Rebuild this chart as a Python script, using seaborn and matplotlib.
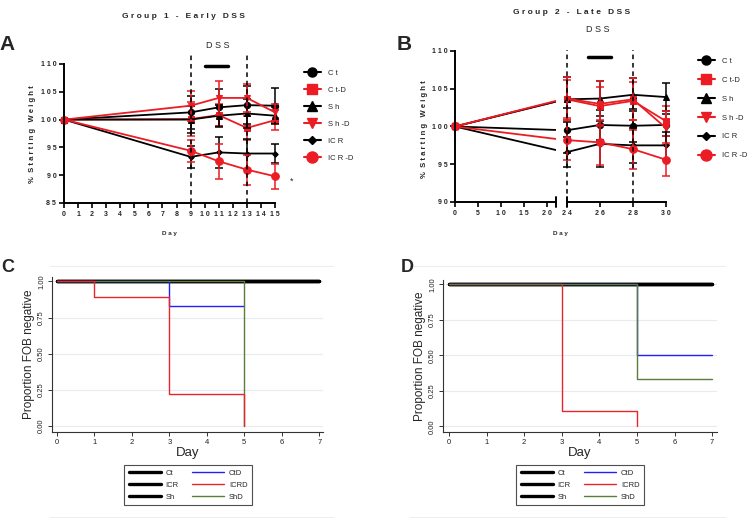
import matplotlib
matplotlib.use("Agg")
import matplotlib.pyplot as plt
from matplotlib.lines import Line2D
import seaborn as sns

# ---- data ----
groups = ["Ct", "Ct-D", "Sh", "Sh-D", "ICR", "ICR-D"]
group_labels = ["C t", "C t-D", "S h", "S h -D", "IC R", "IC R -D"]

# panel A: group 1, early DSS (% starting weight, mean and SEM)
days_a = [0, 9, 11, 13, 15]
weight_a = [
    [100, 101.3, 102.2, 102.6, 102.5],   # Ct
    [100, 100.1, 100.8, 98.5, 99.9],     # Ct-D
    [100, 100.0, 100.7, 101.1, 100.7],   # Sh
    [100, 102.5, 103.9, 103.9, 101.3],   # Sh-D
    [100, 93.3, 94.1, 93.9, 93.9],       # ICR
    [100, 94.4, 92.5, 91.0, 89.8],       # ICR-D
]
sem_a = [
    [0, 3.0, 3.3, 3.4, 3.1],
    [0, 3.0, 2.0, 2.1, 1.8],
    [0, 2.5, 2.0, 2.6, 1.5],
    [0, 2.7, 3.0, 2.5, 1.5],
    [0, 2.0, 2.8, 2.7, 1.7],
    [0, 2.0, 3.2, 2.7, 2.2],
]
yticks_a = [85, 90, 95, 100, 105, 110]
xticks_a = list(range(0, 16))

# panel B: group 2, late DSS
days_b = [0, 24, 26, 28, 30]
weight_b = [
    [100, 99.5, 100.2, 100.1, 100.2],    # Ct
    [100, 103.6, 102.7, 103.4, 100.7],   # Ct-D
    [100, 103.6, 103.7, 104.2, 103.9],   # Sh
    [100, 103.7, 103.0, 103.6, 99.8],    # Sh-D
    [100, 96.6, 97.7, 97.5, 97.5],       # ICR
    [100, 98.2, 97.9, 97.0, 95.6],       # ICR-D
]
sem_b = [
    [0, 3.0, 2.0, 2.2, 1.5],
    [0, 2.5, 2.5, 2.5, 2.0],
    [0, 3.0, 2.3, 2.2, 1.8],
    [0, 2.8, 3.0, 2.8, 2.2],
    [0, 2.0, 3.0, 2.3, 1.8],
    [0, 2.7, 3.0, 2.6, 2.2],
]
yticks_b = [90, 95, 100, 105, 110]
xticks_b_left = [0, 5, 10, 15, 20]
xticks_b_right = [24, 26, 28, 30]

# panels C/D: proportion FOB negative (step curves)
km_labels = ["Ct", "ICR", "Sh", "CtD", "ICRD", "ShD"]
c_ctrl_days, c_ctrl = [0, 7], [1.0, 1.0]
c_ctd_days, c_ctd = [0, 3, 5], [1.0, 0.83, 0.83]
c_icrd_days, c_icrd = [0, 1, 3, 5], [1.0, 0.89, 0.22, 0.0]
c_shd_days, c_shd = [0, 5], [1.0, 0.0]
d_ctrl_days, d_ctrl = [0, 7], [1.0, 1.0]
d_ctd_days, d_ctd = [0, 5, 7], [1.0, 0.5, 0.5]
d_icrd_days, d_icrd = [0, 3, 5], [1.0, 0.11, 0.0]
d_shd_days, d_shd = [0, 5, 7], [1.0, 0.33, 0.33]
km_yticks = [0, 0.25, 0.5, 0.75, 1.0]
km_xticks = list(range(0, 8))

# ---- styles ----
sns.set_style("ticks")
plt.rcParams["font.family"] = ["Liberation Sans", "DejaVu Sans"]

RED = "#ec1c24"
colors = ["black", RED, "black", RED, "black", RED]
markers = ["o", "s", "^", "v", "D", "o"]
msizes = [4.5, 4.5, 4.5, 5.0, 2.8, 5.5]


def spaced(s):
    return " ".join(str(s))


def prism_axes(ax):
    for s in ["top", "right"]:
        ax.spines[s].set_visible(False)
    for s in ["left", "bottom"]:
        ax.spines[s].set_linewidth(1.4)
        ax.spines[s].set_color("black")
    ax.tick_params(direction="out", length=3.5, width=1.2, color="black",
                   labelsize=5, pad=2)
    for lab in ax.get_xticklabels() + ax.get_yticklabels():
        lab.set_fontweight("bold")


fig = plt.figure(figsize=(7.5, 5.18), dpi=100)
W, H = 750.0, 518.0


def fx(px):
    return px / W


def fy(py):
    return 1 - py / H


# ================= panel A =================
axA = fig.add_axes([fx(64), fy(203), fx(211), 139 / H])
for i, g in enumerate(groups):
    sns.lineplot(x=days_a, y=weight_a[i], ax=axA, color=colors[i], marker=markers[i],
                 markersize=msizes[i], markeredgecolor=colors[i], lw=1.3,
                 estimator=None, sort=False, clip_on=False, legend=False)
    axA.errorbar(days_a[1:], weight_a[i][1:], yerr=sem_a[i][1:], fmt="none",
                 ecolor=colors[i], elinewidth=1.1, capsize=2.8, capthick=1.1,
                 clip_on=False)
axA.set_xlim(0, 15)
axA.set_ylim(85, 110)
axA.set_xticks(xticks_a, labels=[spaced(t) for t in xticks_a])
axA.set_yticks(yticks_a, labels=[spaced(t) for t in yticks_a])
prism_axes(axA)
for d in (9, 13):
    axA.plot([d, d], [85, 111.6], ls=(0, (3, 2.5)), color="black", lw=1.1, clip_on=False)
axA.plot([10, 11.65], [109.7, 109.7], color="black", lw=2.5, clip_on=False)
axA.text(10.9, 113.4, "D S S", ha="center", va="center", fontsize=6.5)
axA.text(16.2, 89.0, "*", ha="center", va="center", fontsize=6.5)

# ================= panel B (broken x axis) =================
axB1 = fig.add_axes([fx(455), fy(202), fx(101), 151 / H])
axB2 = fig.add_axes([fx(566.7), fy(202), fx(99.3), 151 / H])
for i, g in enumerate(groups):
    sns.lineplot(x=days_b, y=weight_b[i], ax=axB1, color=colors[i], lw=1.3,
                 estimator=None, sort=False, legend=False)
    axB1.plot(days_b[:1], weight_b[i][:1], marker=markers[i], ms=msizes[i],
              color=colors[i], ls="none", clip_on=False)
    sns.lineplot(x=days_b[1:], y=weight_b[i][1:], ax=axB2, color=colors[i],
                 marker=markers[i], markersize=msizes[i], markeredgecolor=colors[i],
                 lw=1.3, estimator=None, sort=False, clip_on=False, legend=False)
    axB2.errorbar(days_b[1:], weight_b[i][1:], yerr=sem_b[i][1:], fmt="none",
                  ecolor=colors[i], elinewidth=1.1, capsize=2.8, capthick=1.1,
                  clip_on=False)
axB1.set_xlim(0, 22)
axB2.set_xlim(24, 30)
for ax in (axB1, axB2):
    ax.set_ylim(90, 110)
axB1.set_xticks(xticks_b_left, labels=[spaced(t) for t in xticks_b_left])
axB1.set_yticks(yticks_b, labels=[spaced(t) for t in yticks_b])
axB2.set_xticks(xticks_b_right, labels=[spaced(t) for t in xticks_b_right])
prism_axes(axB1)
prism_axes(axB2)
axB2.spines["left"].set_visible(False)
axB2.tick_params(axis="y", left=False, labelleft=False)
for ax, xa in ((axB1, 1.0), (axB2, 0.0)):
    ax.plot([xa, xa], [-0.035, 0.035], transform=ax.transAxes, color="black",
            lw=1.4, clip_on=False)
for d in (24, 28):
    axB2.plot([d, d], [90, 110.1], ls=(0, (3, 2.5)), color="black", lw=1.1, clip_on=False)
axB2.plot([25.3, 26.7], [109.2, 109.2], color="black", lw=2.5, clip_on=False)
axB2.text(25.9, 112.8, "D S S", ha="center", va="center", fontsize=6.5)

# Prism titles / labels
fig.text(fx(183), fy(17), "G r o u p   1   -   E a r l y   D S S", ha="center",
         va="center", fontsize=6, fontweight="bold")
fig.text(fx(572), fy(13), "G r o u p   2   -   L a t e   D S S", ha="center",
         va="center", fontsize=6, fontweight="bold")
fig.text(fx(7), fy(45), "A", ha="center", va="center", fontsize=15, fontweight="bold")
fig.text(fx(404), fy(45), "B", ha="center", va="center", fontsize=15, fontweight="bold")
ylab = "%  S t a r t i n g   W e i g h t"
fig.text(fx(33), fy(134), ylab, rotation=90, ha="center", va="center",
         fontsize=5.5, fontweight="bold")
fig.text(fx(425), fy(129), ylab, rotation=90, ha="center", va="center",
         fontsize=5.5, fontweight="bold")
fig.text(fx(169), fy(233), "D a y", ha="center", va="center", fontsize=4.5, fontweight="bold")
fig.text(fx(560), fy(233), "D a y", ha="center", va="center", fontsize=4.5, fontweight="bold")

# Prism legends
handles = [Line2D([], [], color=colors[i], marker=markers[i], ms=msizes[i] * 1.45,
                  lw=1.5) for i in range(len(groups))]
fig.legend(handles, group_labels, loc="upper left", bbox_to_anchor=(fx(300), fy(66)),
           frameon=False, fontsize=5.5, labelspacing=1.25, handlelength=2.2,
           borderpad=0, handletextpad=1.0)
fig.legend(handles, group_labels, loc="upper left", bbox_to_anchor=(fx(694), fy(54)),
           frameon=False, fontsize=5.5, labelspacing=1.5, handlelength=2.2,
           borderpad=0, handletextpad=1.0)

# ================= panels C / D (Stata step curves) =================
BLUE = "#1f1fff"
KRED = "#e8262b"
GREEN = "#5b7d3b"


def stata_axes(ax):
    sns.despine(ax=ax)
    for s in ["left", "bottom"]:
        ax.spines[s].set_linewidth(0.8)
        ax.spines[s].set_color("#333333")
    ax.set_xticks(km_xticks)
    ax.set_yticks(km_yticks, labels=[f"{t:.2f}" for t in km_yticks])
    ax.tick_params(direction="out", length=3, width=0.7, color="#333333",
                   labelsize=5.5, labelcolor="#222222", pad=2)
    plt.setp(ax.get_yticklabels(), rotation=90, va="center")
    ax.grid(axis="y", color="#e6ecef", lw=0.8)
    ax.set_axisbelow(True)
    ax.set_xlabel("Day", fontsize=9.5, labelpad=1)
    ax.set_ylabel("Proportion FOB negative", fontsize=8.5, labelpad=2)


def step(ax, x, y, color, lw):
    sns.lineplot(x=x, y=y, ax=ax, color=color, lw=lw, drawstyle="steps-post",
                 estimator=None, sort=False, legend=False)


axC = fig.add_axes([fx(52), fy(432), fx(271), 155 / H])
for _ in range(3):
    step(axC, c_ctrl_days, c_ctrl, "black", 2.4)
step(axC, c_ctd_days, c_ctd, BLUE, 1.0)
step(axC, c_shd_days, c_shd, GREEN, 1.0)
step(axC, c_icrd_days, c_icrd, KRED, 1.0)
axC.set_xlim(-0.13, 7.1)
axC.set_ylim(-0.04, 1.03)
stata_axes(axC)

axD = fig.add_axes([fx(443), fy(432), fx(274), 152 / H])
for _ in range(3):
    step(axD, d_ctrl_days, d_ctrl, "black", 2.4)
step(axD, d_ctd_days, d_ctd, BLUE, 1.0)
step(axD, d_icrd_days, d_icrd, KRED, 1.0)
step(axD, d_shd_days, d_shd, GREEN, 1.0)
axD.set_xlim(-0.16, 7.13)
axD.set_ylim(-0.04, 1.03)
stata_axes(axD)

km_colors = ["black", "black", "black", BLUE, KRED, GREEN]
km_lw = [2.4, 2.4, 2.4, 1.0, 1.0, 1.0]
km_handles = [Line2D([], [], color=c, lw=w) for c, w in zip(km_colors, km_lw)]
for cx in (188, 580):
    leg = fig.legend(km_handles, km_labels, loc="center", ncol=2,
                     bbox_to_anchor=(fx(cx), fy(485)), fontsize=5.5, frameon=True,
                     fancybox=False, edgecolor="#222222", handlelength=4.2,
                     labelspacing=0.6, columnspacing=1.8, borderpad=0.55,
                     handletextpad=0.6)
    leg.get_frame().set_linewidth(0.8)

fig.text(fx(8), fy(268), "C", ha="center", va="center", fontsize=13, fontweight="bold")
fig.text(fx(407), fy(268), "D", ha="center", va="center", fontsize=13, fontweight="bold")

# faint Stata graph-region borders
for x0, x1 in ((50, 333), (410, 725)):
    for yy in (266, 517):
        fig.add_artist(Line2D([fx(x0), fx(x1)], [fy(yy), fy(yy)], color="#eeeeee", lw=0.8))

fig.savefig("out.png", dpi=100)
